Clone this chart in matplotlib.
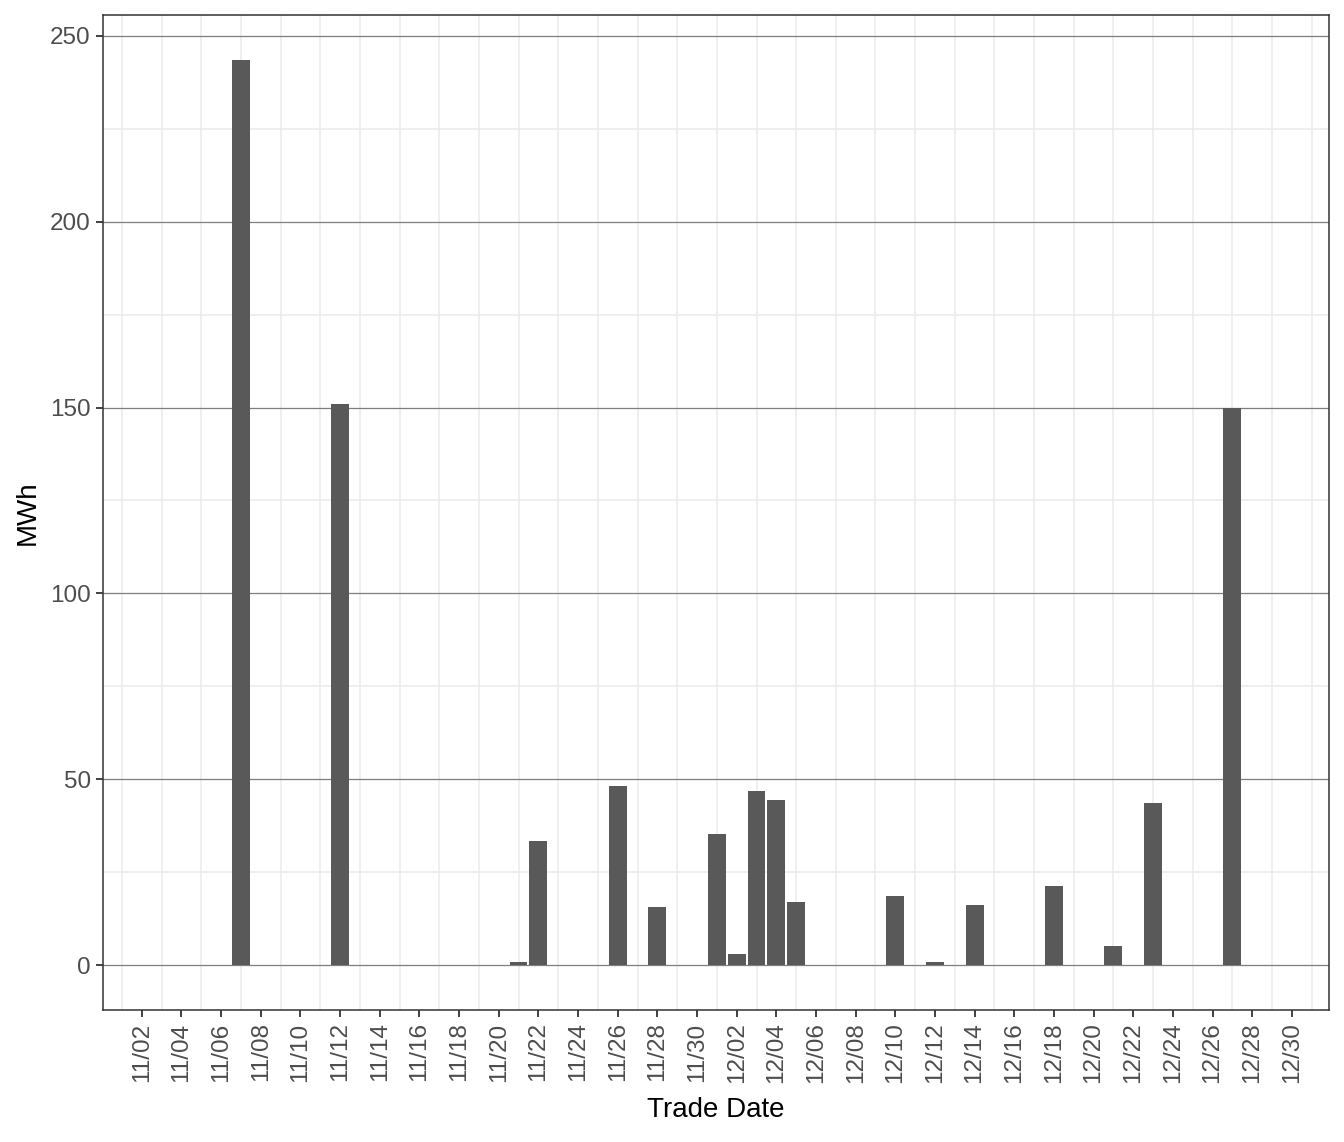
import matplotlib
matplotlib.use("Agg")
import matplotlib.pyplot as plt
import matplotlib.dates as mdates
import numpy as np
import datetime as dt

plt.rcParams['font.family'] = ['Liberation Sans', 'DejaVu Sans']

# Data
trade_dates = ["2023-11-07", "2023-11-12", "2023-11-21", "2023-11-22", "2023-11-26",
               "2023-11-28", "2023-12-01", "2023-12-02", "2023-12-03", "2023-12-04",
               "2023-12-05", "2023-12-10", "2023-12-12", "2023-12-14", "2023-12-18",
               "2023-12-21", "2023-12-23", "2023-12-27"]
mwh = [243.6, 151.0, 0.8, 33.4, 48.3,
       15.7, 35.3, 3.0, 46.8, 44.4,
       17.0, 18.6, 0.8, 16.2, 21.3,
       5.1, 43.6, 150.0]
y_ticks = [0, 50, 100, 150, 200, 250]
y_minor = [25, 75, 125, 175, 225]

dates = [dt.datetime.strptime(d, "%Y-%m-%d") for d in trade_dates]
xnum = mdates.date2num(dates)

fig = plt.figure(figsize=(13.44, 11.42), dpi=100)
ax = fig.add_axes([0.0769, 0.1156, 0.9119, 0.8713])

ax.bar(xnum, mwh, width=0.9, color="#595959", zorder=3)

x0 = mdates.date2num(dt.datetime(2023, 11, 2))
ax.set_xlim(x0 - 1.94, x0 + 59.87)
ax.set_ylim(-12.1, 255.65)

ax.xaxis.set_major_locator(mdates.DayLocator(bymonthday=list(range(2, 32, 2))))
ax.xaxis.set_minor_locator(mdates.DayLocator(bymonthday=list(range(1, 32, 2))))
ax.xaxis.set_major_formatter(mdates.DateFormatter("%m/%d"))
ax.set_yticks(y_ticks)
ax.set_yticks(y_minor, minor=True)

ax.grid(False)
ax.xaxis.grid(True, which="minor", color="#ebebeb", linewidth=1.1, zorder=0)
ax.yaxis.grid(True, which="minor", color="#ebebeb", linewidth=1.1, zorder=0)
ax.yaxis.grid(True, which="major", color="#7f7f7f", linewidth=0.9, zorder=1)

ax.tick_params(axis="both", which="major", length=5, width=1.3, color="#333333",
               labelcolor="#4d4d4d", labelsize=17.5)
ax.tick_params(axis="x", which="major", labelrotation=90, pad=4)
ax.tick_params(axis="y", which="major", pad=4)
ax.tick_params(axis="both", which="minor", length=0)
for lab in ax.get_xticklabels():
    lab.set_verticalalignment("top")
    lab.set_horizontalalignment("center")

for s in ax.spines.values():
    s.set_color("#333333")
    s.set_linewidth(1.1)

ax.set_xlabel("Trade Date", fontsize=20, color="black", labelpad=10)
ax.set_ylabel("MWh", fontsize=20, color="black", labelpad=7)

fig.savefig("out.png", dpi=100, facecolor="white")
